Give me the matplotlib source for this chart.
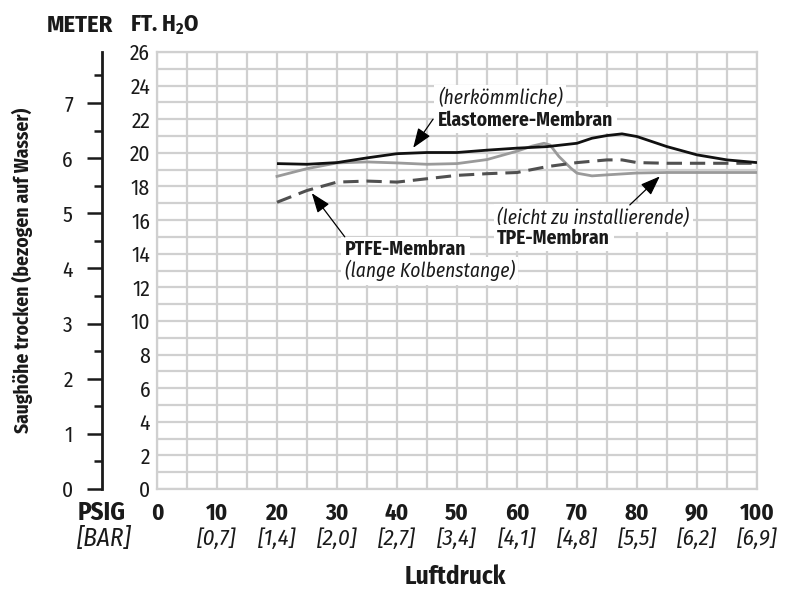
import numpy as np
import matplotlib
matplotlib.use("Agg")
import matplotlib.pyplot as plt
from matplotlib.ticker import MultipleLocator

FONT = ["Fira Sans Condensed", "Liberation Sans", "DejaVu Sans"]
plt.rcParams["font.family"] = FONT
plt.rcParams["mathtext.fontset"] = "custom"
plt.rcParams["mathtext.bf"] = "Fira Sans Condensed:bold"
plt.rcParams["mathtext.rm"] = "Fira Sans Condensed"

GRID = "#d0d0d0"
INK = "#1a1a1a"

# Luftdruck (psig) ticks and bar equivalents
psig_ticks = [0, 10, 20, 30, 40, 50, 60, 70, 80, 90, 100]
bar_labels = ["", "[0,7]", "[1,4]", "[2,0]", "[2,7]", "[3,4]", "[4,1]", "[4,8]", "[5,5]", "[6,2]", "[6,9]"]

# (herkömmliche) Elastomere-Membran
elast_x = [20, 25, 30, 35, 40, 45, 50, 55, 60, 65, 70, 72.5, 75, 77.5, 80, 82.5, 85, 90, 95, 100]
elast_y = [19.36, 19.32, 19.42, 19.7, 19.95, 20.02, 20.02, 20.16, 20.28, 20.37, 20.57, 20.87,
           21.03, 21.13, 20.97, 20.67, 20.37, 19.88, 19.58, 19.42]

# (leicht zu installierende) TPE-Membran
tpe_x = [20, 25, 30, 35, 40, 45, 50, 55, 58, 60, 62.5, 64.5, 65.5, 67, 69, 70, 72.5, 75, 80, 85, 90, 100]
tpe_y = [18.6, 19.06, 19.4, 19.46, 19.4, 19.32, 19.36, 19.6, 19.9, 20.1, 20.4, 20.57, 20.47,
         19.78, 19.08, 18.79, 18.63, 18.69, 18.8, 18.83, 18.83, 18.83]

# PTFE-Membran (lange Kolbenstange)
ptfe_x = [20, 25, 30, 35, 40, 45, 50, 55, 60, 65, 70, 75, 77.5, 80, 85, 90, 100]
ptfe_y = [17.06, 17.76, 18.26, 18.32, 18.26, 18.46, 18.66, 18.76, 18.83, 19.18, 19.42, 19.58,
          19.58, 19.42, 19.38, 19.38, 19.38]

FT_MAX = 26
FT_TO_M = 0.3048

W, H = 786, 590
fig = plt.figure(figsize=(W / 100, H / 100), dpi=100)
fig.patch.set_facecolor("white")

left, right, top, bottom = 157, 757, 52, 489
ax = fig.add_axes([left / W, 1 - bottom / H, (right - left) / W, (bottom - top) / H])
ax.set_xlim(0, 100)
ax.set_ylim(0, FT_MAX)

ax.xaxis.set_major_locator(MultipleLocator(5))
ax.yaxis.set_major_locator(MultipleLocator(2))
ax.yaxis.set_minor_locator(MultipleLocator(1))
ax.grid(which="both", color=GRID, lw=1.6, zorder=0)
ax.set_axisbelow(True)
for sp in ax.spines.values():
    sp.set_color(GRID)
    sp.set_linewidth(1.6)
ax.tick_params(axis="both", which="both", length=0)
ax.set_xticklabels([])
ax.tick_params(axis="y", labelsize=15.5, pad=5, labelcolor=INK)

for x, b in zip(psig_ticks, bar_labels):
    ax.annotate(str(x), xy=(x, 0), xycoords=("data", "axes fraction"),
                xytext=(0, -17.5), textcoords="offset points",
                ha="center", va="center", fontsize=16.5, fontweight="bold", color=INK,
                annotation_clip=False)
    if b:
        ax.annotate(b, xy=(x, 0), xycoords=("data", "axes fraction"),
                    xytext=(0, -36), textcoords="offset points",
                    ha="center", va="center", fontsize=16.5, style="italic", color=INK,
                    annotation_clip=False)

ax.plot(elast_x, elast_y, color="#111111", lw=2.0, zorder=4, solid_capstyle="butt")
ax.plot(tpe_x, tpe_y, color="#9a9a9a", lw=2.0, zorder=3)
ax.plot(ptfe_x, ptfe_y, color="#505050", lw=2.2, ls=(0, (5, 2.6)), zorder=3)

box = dict(facecolor="white", edgecolor="none", pad=2.5)
ax.text(46.8, 23.25, "(herkömmliche)", style="italic", fontsize=14,
        ha="left", va="center", color=INK, bbox=box, zorder=2)
ax.text(46.8, 21.96, "Elastomere-Membran", fontweight="bold", fontsize=14,
        ha="left", va="center", color=INK, bbox=box, zorder=2)
ax.text(56.7, 16.13, "(leicht zu installierende)", style="italic", fontsize=14,
        ha="left", va="center", color=INK, bbox=box, zorder=2)
ax.text(56.7, 14.94, "TPE-Membran", fontweight="bold", fontsize=14,
        ha="left", va="center", color=INK, bbox=box, zorder=2)
ax.text(31.3, 14.23, "PTFE-Membran", fontweight="bold", fontsize=14,
        ha="left", va="center", color=INK, bbox=box, zorder=2)
ax.text(31.3, 12.98, "(lange Kolbenstange)", style="italic", fontsize=14,
        ha="left", va="center", color=INK, bbox=box, zorder=2)

arrow = dict(arrowstyle="-|>,head_length=0.75,head_width=0.28", color="black", lw=0.9,
             mutation_scale=16, shrinkA=0, shrinkB=0)
ax.annotate("", xy=(42.7, 20.3), xytext=(46.0, 22.0), arrowprops=arrow, zorder=5)
ax.annotate("", xy=(83.8, 18.6), xytext=(78.8, 16.9), arrowprops=arrow, zorder=5)
ax.annotate("", xy=(25.8, 17.6), xytext=(31.3, 15.0), arrowprops=arrow, zorder=5)

# meter scale
axm = fig.add_axes([102 / W, 1 - bottom / H, 0.0001, (bottom - top) / H])
axm.set_ylim(0, FT_MAX * FT_TO_M)
axm.patch.set_alpha(0)
for s in ["top", "right", "bottom"]:
    axm.spines[s].set_visible(False)
axm.spines["left"].set_linewidth(2.0)
axm.spines["left"].set_color(INK)
axm.set_xticks([])
axm.yaxis.set_major_locator(MultipleLocator(1))
axm.yaxis.set_minor_locator(MultipleLocator(0.5))
axm.tick_params(axis="y", which="major", length=11, width=1.8, color=INK,
                labelsize=15.5, pad=10, labelcolor=INK)
axm.tick_params(axis="y", which="minor", length=6, width=1.8, color=INK)
axm.set_yticks(range(0, 8))

fig.text(113 / W, 1 - 25 / H, "METER", fontsize=17.5, fontweight="bold",
         ha="right", va="center", color=INK)
fig.text(130 / W, 1 - 25 / H, r"FT. H$_\mathbf{2}$O", fontsize=16.5, fontweight="bold",
         ha="left", va="center", color=INK)
fig.text(102 / W, 1 - 513 / H, "PSIG", fontsize=18, fontweight="bold",
         ha="center", va="center", color=INK)
fig.text(104 / W, 1 - 539 / H, "[BAR]", fontsize=18, style="italic",
         ha="center", va="center", color=INK)
fig.text(455 / W, 1 - 577 / H, "Luftdruck", fontsize=18, fontweight="bold",
         ha="center", va="center", color=INK)
fig.text(22 / W, 1 - 270 / H, "Saughöhe trocken (bezogen auf Wasser)", fontsize=14,
         fontweight="bold", rotation=90, ha="center", va="center", color=INK)

fig.savefig("out.png", dpi=100, facecolor="white")
